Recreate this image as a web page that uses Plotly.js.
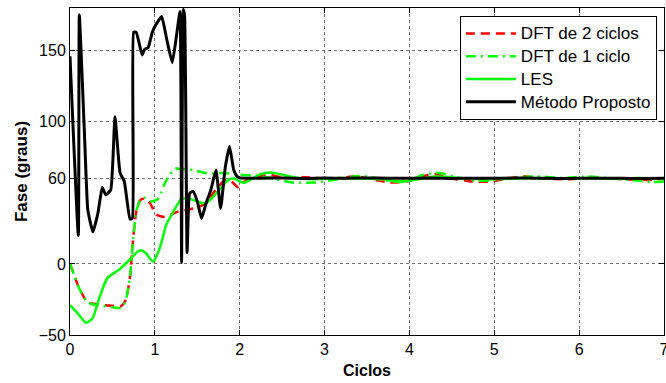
<!DOCTYPE html>
<html>
<head>
<meta charset="utf-8">
<script src="https://cdn.plot.ly/plotly-3.0.1.min.js"></script>
<style>html,body{margin:0;padding:0;background:#fff;}#chart{width:666px;height:383px;}</style>
</head>
<body>
<div id="chart"></div>
<script>
// DFT de 2 ciclos
var dft2X = [0, 0.05, 0.1, 0.2, 0.275, 0.39, 0.5, 0.59, 0.63, 0.66, 0.707, 0.746, 0.785, 0.83, 0.88, 0.94, 1.02, 1.12, 1.2, 1.28, 1.37, 1.45, 1.55, 1.62, 1.69, 1.76, 1.83, 1.9, 1.98, 2.03, 2.08, 2.2, 2.35, 2.5, 2.77, 3.0, 3.2, 3.38, 3.6, 3.77, 3.97, 4.18, 4.3, 4.5, 4.75, 4.97, 5.15, 5.34, 5.6, 5.9, 6.12, 6.4, 6.79, 7.0];
var dft2Y = [0, -8, -16, -26.5, -28, -29, -29.5, -30, -28, -25, -9, 19, 38, 45, 46, 43, 34.5, 33, 35, 37, 38, 39, 41, 44, 50, 55, 59, 58, 54, 56, 59, 61.5, 62.5, 61, 61, 60, 60.5, 61.6, 59, 57.2, 58, 62, 63, 60, 58, 58, 60, 61.6, 60, 59.5, 60.5, 60, 59, 60];
// DFT de 1 ciclo
var dft1X = [0, 0.05, 0.1, 0.2, 0.275, 0.39, 0.5, 0.59, 0.63, 0.66, 0.707, 0.746, 0.785, 0.83, 0.88, 0.95, 1.02, 1.06, 1.12, 1.18, 1.24, 1.35, 1.45, 1.59, 1.7, 1.79, 1.9, 2.0, 2.2, 2.4, 2.6, 2.87, 3.1, 3.42, 3.6, 3.8, 4.0, 4.17, 4.36, 4.55, 4.8, 5.0, 5.2, 5.5, 5.8, 6.12, 6.4, 6.6, 6.87, 7.0];
var dft1Y = [0, -8, -16, -26.5, -28.5, -29.5, -30.5, -31, -29, -25, -9, 19, 38, 45, 46.5, 44, 45, 48, 57, 63, 67, 66.5, 66, 64, 63.5, 64, 63.5, 62.7, 62, 60, 57.5, 57.2, 59, 62, 60.5, 58, 59, 62.7, 64, 61, 58.5, 59, 60.5, 61.5, 60.5, 61.5, 60, 59, 57.6, 58];
// LES
var lesX = [0, 0.09, 0.19, 0.267, 0.345, 0.44, 0.58, 0.7, 0.8, 0.85, 0.895, 0.98, 1.05, 1.1, 1.13, 1.22, 1.31, 1.39, 1.45, 1.52, 1.57, 1.63, 1.69, 1.77, 1.845, 1.9, 1.94, 2.0, 2.05, 2.12, 2.24, 2.36, 2.45, 2.59, 2.75, 2.87, 3.0, 3.2, 3.5, 3.7, 3.89, 4.05, 4.3, 4.6, 4.9, 5.2, 5.5, 5.8, 6.1, 6.4, 6.7, 7.0];
var lesY = [-29, -34.7, -41.3, -38, -24, -10, -4, 2.8, 8.7, 9.5, 7.5, 1.6, 10, 20, 27, 37, 45.5, 46, 45, 43.5, 42.7, 44, 47.4, 53, 58, 60, 60, 58, 57, 59, 63, 64.3, 63.5, 61.5, 60, 59.6, 60, 60.5, 60, 59.5, 57.6, 59, 61.5, 60.5, 59.5, 60, 60.5, 60, 60.5, 60, 60.5, 60];
// Método Proposto
var propX = [0, 0.098, 0.11, 0.17, 0.21, 0.27, 0.33, 0.38, 0.42, 0.48, 0.53, 0.59, 0.64, 0.707, 0.735, 0.75, 0.78, 0.85, 0.88, 0.92, 0.97, 1.01, 1.08, 1.14, 1.205, 1.26, 1.296, 1.315, 1.335, 1.35, 1.38, 1.41, 1.45, 1.5, 1.55, 1.6, 1.66, 1.72, 1.775, 1.83, 1.88, 1.93, 1.97, 2.0, 2.25, 2.5, 2.75, 3.0, 3.25, 3.5, 3.75, 4.0, 4.25, 4.5, 4.75, 5.0, 5.25, 5.5, 5.75, 6.0, 6.25, 6.5, 6.75, 7.0];
var propY = [146, 20, 175, 92, 38, 22.5, 36, 54, 48.6, 52, 103.5, 64, 58, 31.6, 32, 163, 163, 147, 151, 152, 163, 168, 174, 158, 141.5, 162.7, 177.5, 1, 179, 175, 8, 49.7, 51, 44, 32, 42, 52, 66, 39, 68, 82.5, 66, 61.5, 60.5, 60.3, 60.5, 60.1, 60.4, 60.2, 60.5, 60.3, 60.2, 60.4, 60.1, 60.3, 60.2, 60.4, 60.3, 60.1, 60.2, 60.3, 60.2, 60.1, 60.2];

var xTicks = [0, 1, 2, 3, 4, 5, 6, 7];
var yTicks = [-50, 0, 60, 100, 150];
var names = ['DFT de 2 ciclos', 'DFT de 1 ciclo', 'LES', 'Método Proposto'];

var font = 'Arial, "Liberation Sans", sans-serif';
function legName(s) { return '<span style="font-size:17px">' + s + '</span>'; }

var traces = [
  {x: dft2X, y: dft2Y, name: legName(names[0]), mode: 'lines', line: {color: '#ff0000', width: 2.5, dash: '9px,6px', shape: 'spline', smoothing: 0.6}},
  {x: dft1X, y: dft1Y, name: legName(names[1]), mode: 'lines', line: {color: '#00ff00', width: 2.5, dash: '10px,5px,2px,5px', shape: 'spline', smoothing: 0.6}},
  {x: lesX, y: lesY, name: legName(names[2]), mode: 'lines', line: {color: '#00ff00', width: 2.5, shape: 'spline', smoothing: 0.6}},
  {x: propX, y: propY, name: legName(names[3]), mode: 'lines', line: {color: '#000000', width: 3, shape: 'spline', smoothing: 0.4}}
];

var axisCommon = {
  showline: true, linecolor: '#000', linewidth: 1, mirror: 'ticks',
  ticks: 'inside', ticklen: 5, tickcolor: '#000', tickwidth: 1,
  showgrid: true, gridcolor: '#707070', griddash: 'dot', gridwidth: 1,
  zeroline: false, ticklabeloverflow: 'allow',
  tickfont: {family: font, size: 16, color: '#000'}
};

var layout = {
  width: 666, height: 383,
  margin: {l: 70, r: 2, t: 8, b: 48},
  paper_bgcolor: '#fff', plot_bgcolor: '#fff',
  font: {family: font, size: 16, color: '#000'},
  xaxis: Object.assign({}, axisCommon, {
    range: [0, 7], tickmode: 'array', tickvals: xTicks, ticktext: xTicks.map(String),
    title: {text: '<b>Ciclos</b>', font: {family: font, size: 16, color: '#000'}, standoff: 7}
  }),
  yaxis: Object.assign({}, axisCommon, {
    range: [-50, 180], tickmode: 'array', tickvals: yTicks, ticktext: yTicks.map(function(v){return v < 0 ? '\u2212' + Math.abs(v) : String(v);}),
    title: {text: '<b>Fase (graus)</b>', font: {family: font, size: 17, color: '#000'}, standoff: 6}
  }),
  showlegend: true,
  legend: {
    x: 0.988, y: 0.9755, xanchor: 'right', yanchor: 'top',
    bgcolor: '#fff', bordercolor: '#000', borderwidth: 1,
    font: {family: font, size: 15.2, color: '#000'},
    tracegroupgap: 0, itemwidth: 50
  }
};

Plotly.newPlot('chart', traces, layout, {displayModeBar: false, staticPlot: true});
</script>
</body>
</html>
